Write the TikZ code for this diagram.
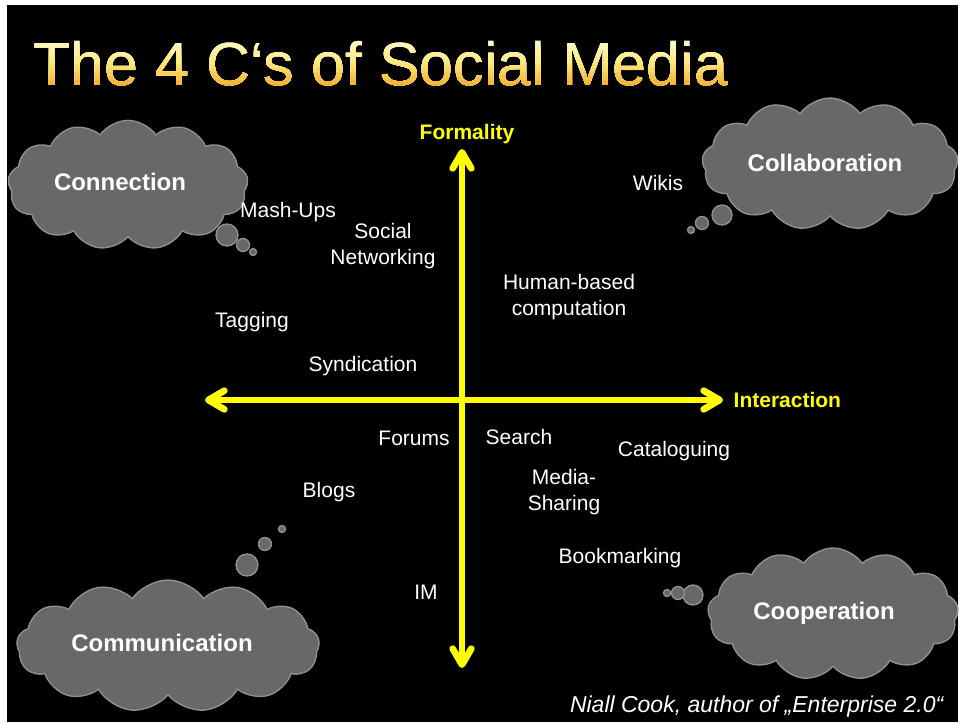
\documentclass[tikz,border=0pt]{standalone}
\usepackage{fontspec}
\setmainfont{Liberation Sans}
\usetikzlibrary{shapes.symbols, arrows.meta}

\definecolor{cloudgray}{RGB}{104,104,104}
\definecolor{cloudedge}{RGB}{145,145,145}
\definecolor{axisyellow}{RGB}{255,255,0}
\definecolor{titletop}{RGB}{255,252,210}
\definecolor{titlemid}{RGB}{255,234,125}
\definecolor{titlebot}{RGB}{242,175,45}

\tikzset{
  bubble/.style={fill=cloudgray, draw=cloudedge, line width=1pt},
  thought/.style={cloud, cloud puffs=13, cloud puff arc=110, cloud ignores aspect,
    bubble, inner sep=0pt},
  cloudtext/.style={text=white, font=\bfseries\fontsize{18}{20}\selectfont},
  item/.style={text=white, align=center, font=\fontsize{15.75}{19.5}\selectfont},
  axislabel/.style={text=axisyellow, font=\bfseries\fontsize{15.75}{18}\selectfont},
  axis/.style={axisyellow, line width=5pt, line cap=round},
  heading/.style={anchor=base west, inner sep=0pt, font=\fontsize{45.75}{50}\selectfont}
}

\begin{document}
\begin{tikzpicture}[x=0.75pt, y=-0.75pt,
    >={Straight Barb[length=12pt, width=14pt, line cap=round, line join=round]}]
  \useasboundingbox (0,0) rectangle (960,722);
  \fill [white] (0,0) rectangle (960,722);
  \fill [black] (7,5) rectangle (958,722);

  % title, shaded in bands
  \foreach \i in {0,...,12} {
    \ifnum\i<7
      \pgfmathtruncatemacro\pct{\i*100/6}
      \colorlet{tc}{titlemid!\pct!titletop}
    \else
      \pgfmathtruncatemacro\pct{(\i-6)*100/6}
      \colorlet{tc}{titlebot!\pct!titlemid}
    \fi
    \begin{scope}
      \clip (0,36+4*\i) rectangle (960,95);
      \node (title) [heading, text=tc] at (33,85) {The 4 C‘s of Social Media};
    \end{scope}
  }

  % clouds
  \node (connection) [thought, minimum width=180pt, minimum height=97pt] at (128,185) {};
  \node (connectiontext) [cloudtext] at (120,182) {Connection};
  \fill [bubble] (227,235) circle [radius=11];
  \fill [bubble] (243,245) circle [radius=6.5];
  \fill [bubble] (253,252) circle [radius=3.5];

  \node (collaboration) [thought, minimum width=192pt, minimum height=99pt] at (830,164) {};
  \node (collaborationtext) [cloudtext] at (825,163) {Collaboration};
  \fill [bubble] (722,215) circle [radius=10];
  \fill [bubble] (702,223) circle [radius=6.5];
  \fill [bubble] (691,230) circle [radius=3.5];

  \node (communication) [thought, minimum width=227pt, minimum height=99pt] at (168,646) {};
  \node (communicationtext) [cloudtext] at (162,643) {Communication};
  \fill [bubble] (247,565) circle [radius=11];
  \fill [bubble] (265,544) circle [radius=6.5];
  \fill [bubble] (282,529) circle [radius=3.5];

  \node (cooperation) [thought, minimum width=188pt, minimum height=99pt] at (833,614) {};
  \node (cooperationtext) [cloudtext] at (824,613) {Cooperation};
  \fill [bubble] (693,595) circle [radius=10];
  \fill [bubble] (678,593) circle [radius=6.5];
  \fill [bubble] (667,593) circle [radius=3.5];

  % axes
  \coordinate (west) at (205,400);
  \coordinate (east) at (723,400);
  \coordinate (north) at (462,149);
  \coordinate (south) at (462,668);
  \draw [axis, <->] (west) -- (east);
  \draw [axis, <->] (south) -- (north);
  \node (formality) [axislabel] at (467,134) {Formality};
  \node (interaction) [axislabel, right] at (729,400) {Interaction};

  % tools
  \node (wikis) [item] at (658,183) {Wikis};
  \node (mashups) [item] at (288,212) {Mash-Ups};
  \node (socialnet) [item] at (383,246) {Social\\Networking};
  \node (human) [item] at (569,297) {Human-based\\computation};
  \node (tagging) [item] at (252,322) {Tagging};
  \node (syndication) [item] at (363,366) {Syndication};
  \node (forums) [item] at (414,438) {Forums};
  \node (search) [item] at (519,437) {Search};
  \node (cataloguing) [item] at (674,451) {Cataloguing};
  \node (mediasharing) [item] at (564,492) {Media-\\Sharing};
  \node (blogs) [item] at (329,492) {Blogs};
  \node (bookmarking) [item] at (620,558) {Bookmarking};
  \node (im) [item] at (426,592) {IM};

  \node (source) [anchor=east, text=white, font=\itshape\fontsize{17.25}{20}\selectfont]
    at (948,707) {Niall Cook, author of „Enterprise 2.0“};
\end{tikzpicture}
\end{document}
